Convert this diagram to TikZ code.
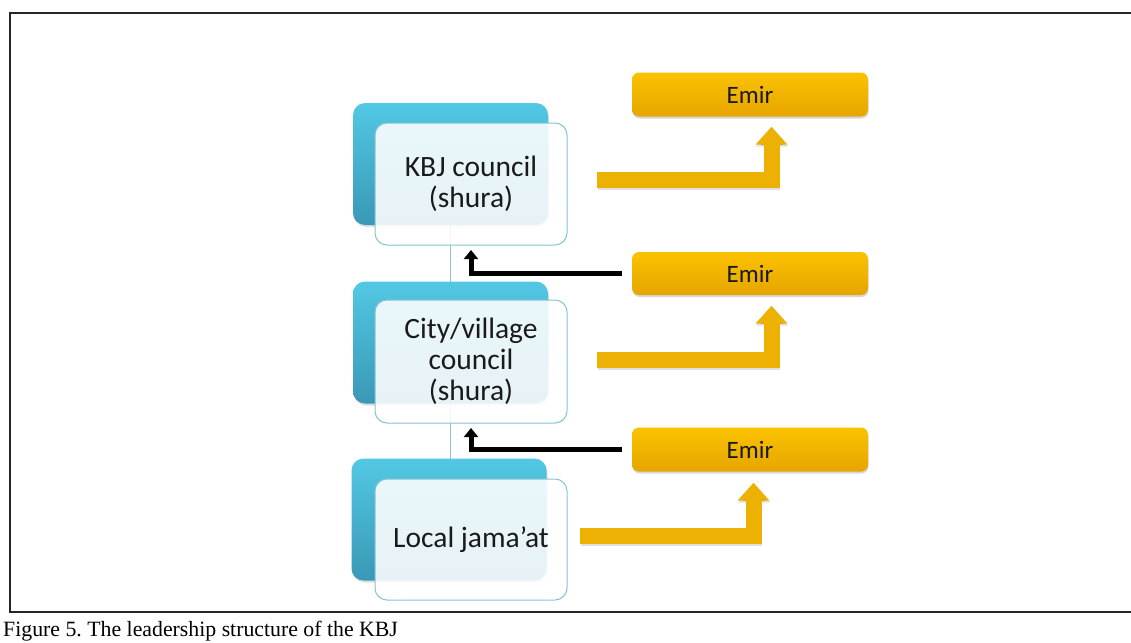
\documentclass[tikz,border=0pt]{standalone}
\usepackage{fontspec}
\setmainfont{Liberation Serif}
\newfontfamily\boxfont{Carlito}
\usetikzlibrary{arrows.meta,shadows,calc}
\frenchspacing
\definecolor{cyanTop}{HTML}{52C8E4}
\definecolor{cyanBot}{HTML}{3A98B5}
\definecolor{frontFill}{HTML}{FFFFFF}
\definecolor{frontLine}{HTML}{86C3D6}
\definecolor{vlineCol}{HTML}{8FBFCF}
\definecolor{emirTop}{HTML}{FBC200}
\definecolor{emirBot}{HTML}{E6A500}
\definecolor{orangeArr}{HTML}{EDB104}
\definecolor{txt}{HTML}{1A1A1A}
\begin{document}
\begin{tikzpicture}[x=1pt,y=-1pt,
  frame/.style={line width=2pt, draw=black!85},
  backbox/.style={rounded corners=12pt, top color=cyanTop, bottom color=cyanBot, draw=none,
    minimum width=195pt, minimum height=122pt, inner sep=0pt,
    drop shadow={opacity=0.25, shadow xshift=1pt, shadow yshift=-2pt}},
  frontbox/.style={rounded corners=12pt, fill=frontFill, fill opacity=0.88, text opacity=1,
    draw=frontLine, line width=1pt, minimum width=192pt, minimum height=122pt, inner sep=0pt,
    align=center, text=txt, font=\boxfont\fontsize{29.5}{31}\selectfont},
  emirbox/.style={rounded corners=7pt, top color=emirTop, bottom color=emirBot, draw=none,
    minimum width=236pt, minimum height=44pt, inner sep=0pt, text=txt,
    font=\boxfont\fontsize{25}{28}\selectfont,
    drop shadow={opacity=0.3, shadow xshift=0.5pt, shadow yshift=-2pt}},
  vline/.style={draw=vlineCol, line width=1.2pt},
  blackarrow/.style={line width=5pt, draw=black, line join=miter,
    -{Triangle[width=14pt,length=9pt]}, shorten <=10pt},
  orangearrow/.style={line width=16pt, draw=orangeArr, line join=miter,
    -{Triangle[width=31pt,length=18pt]}},
  orangeshadow/.style={line width=16pt, draw=black, draw opacity=0.12, line join=miter,
    -{Triangle[width=31pt,length=18pt]}},
]
\useasboundingbox (0,0) rectangle (1131,642);
\fill[white] (0,0) rectangle (1131,642);
\draw[frame] (1131,13) -- (10,13) -- (10,612) -- (1131,612);

% connector line between levels
\coordinate (v1) at (450.5,164);
\coordinate (v3) at (450.5,519.5);
\draw[vline] (v1) -- (v3);

% back boxes
\node[backbox] (b1) at (450.5,164) {};
\node[backbox] (b2) at (450.5,342.5) {};
\node[backbox] (b3) at (449,519.5) {};

% front boxes
\node[frontbox] (f1) at (471,184) {KBJ council\\(shura)};
\node[frontbox, minimum height=123pt] (f2) at (471,361.5) {City/village\\council\\(shura)};
\node[frontbox, minimum height=121pt] (f3) at (471,539.5) {Local jama’at};

% Emir boxes
\node[emirbox] (e1) at (750,94.5) {Emir};
\node[emirbox, minimum height=43pt] (e2) at (750,273.5) {Emir};
\node[emirbox] (e3) at (750,449.5) {Emir};

% black arrows
\coordinate (t1) at (471,250);
\coordinate (t2) at (471,428);
\draw[blackarrow] (e2.west) -| (t1);
\draw[blackarrow] (e3.west) -| (t2);

% orange bent arrows
\coordinate (o1s) at (597,180);
\coordinate (o1t) at ($(e1.south)+(21.5,10)$);
\coordinate (o2s) at (597,359.5);
\coordinate (o2t) at ($(e2.south)+(21.5,10.5)$);
\coordinate (o3s) at (580,535.5);
\coordinate (o3t) at ($(e3.south)+(3.5,11)$);
\foreach \s/\t in {o1s/o1t,o2s/o2t,o3s/o3t}{
  \draw[orangeshadow, transform canvas={shift={(0.5pt,-2pt)}}] (\s) -| (\t);
  \draw[orangearrow] (\s) -| (\t);
}

% caption
\node[anchor=base west, inner sep=0pt, font=\fontsize{21.8}{24}\selectfont] (cap) at (3,636) {Figure 5. The leadership structure of the KBJ};
\end{tikzpicture}
\end{document}
